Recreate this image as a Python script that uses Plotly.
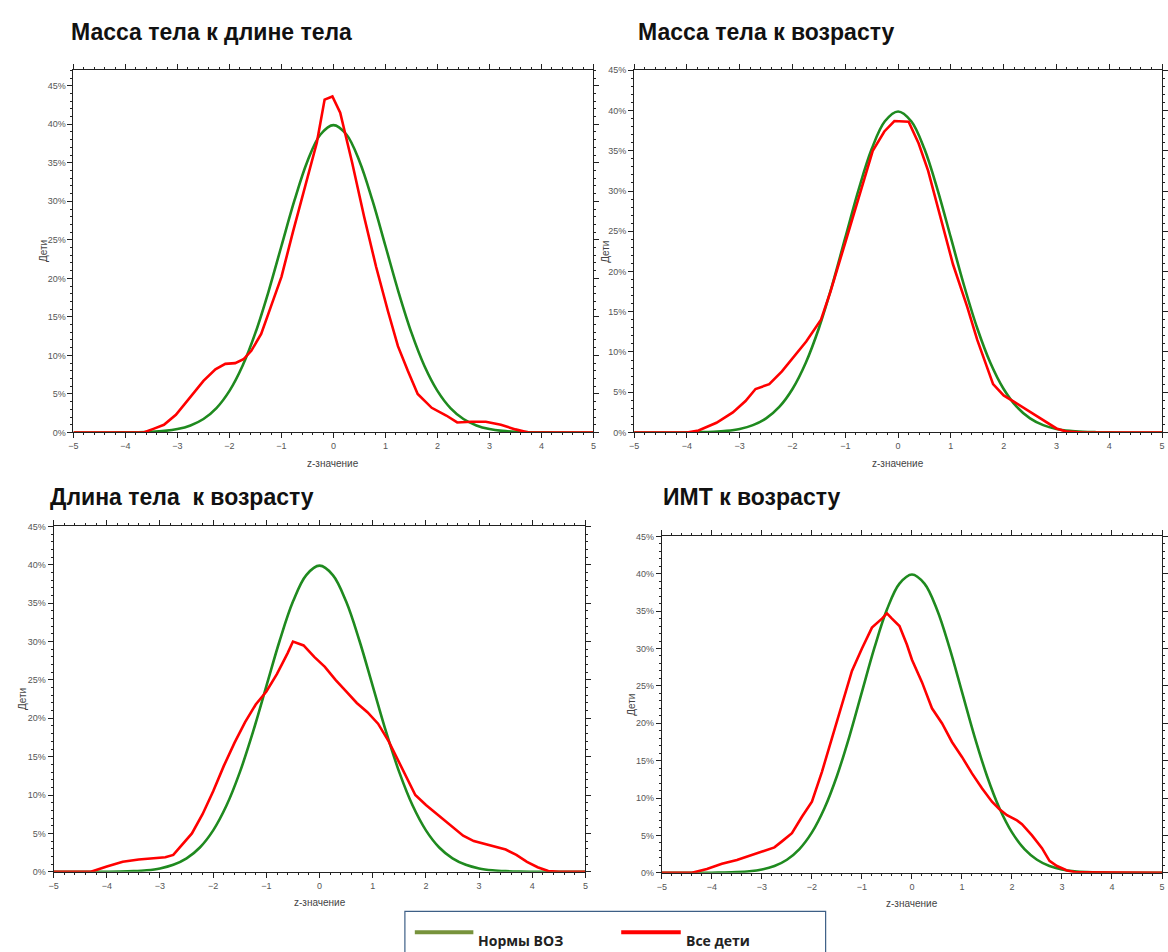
import plotly.graph_objects as go

# ---------------- data ----------------
# WHO reference curve (standard normal density, %), read at 0.25 steps
who_z = [-5.0, -4.75, -4.5, -4.25, -4.0, -3.75, -3.5, -3.25, -3.0, -2.75, -2.5, -2.25, -2.0, -1.75, -1.5, -1.25,
         -1.0, -0.75, -0.5, -0.25, 0.0, 0.25, 0.5, 0.75, 1.0, 1.25, 1.5, 1.75, 2.0, 2.25, 2.5, 2.75, 3.0, 3.25,
         3.5, 3.75, 4.0, 4.25, 4.5, 4.75, 5.0]
who_pct = [0.0, 0.0005, 0.002, 0.005, 0.013, 0.035, 0.087, 0.20, 0.44, 0.91, 1.75, 3.17, 5.40, 8.63, 12.95, 18.26,
           24.20, 30.11, 35.21, 38.67, 39.89, 38.67, 35.21, 30.11, 24.20, 18.26, 12.95, 8.63, 5.40, 3.17, 1.75,
           0.91, 0.44, 0.20, 0.087, 0.035, 0.013, 0.005, 0.002, 0.0005, 0.0]

# "Все дети" – Масса тела к длине тела
wl_z = [-5.0, -3.65, -3.45, -3.26, -3.03, -2.78, -2.5, -2.27, -2.08, -1.89, -1.73, -1.58, -1.39, -1.2, -1.0,
        -0.78, -0.55, -0.32, -0.17, -0.02, 0.13, 0.36, 0.59, 0.82, 1.05, 1.24, 1.43, 1.62, 1.89, 2.17, 2.38,
        2.65, 2.93, 3.22, 3.5, 3.75, 5.0]
wl_pct = [0.0, 0.0, 0.5, 1.0, 2.3, 4.4, 6.7, 8.2, 8.9, 9.0, 9.5, 10.6, 12.8, 16.4, 20.2,
          26.0, 31.8, 37.6, 43.2, 43.6, 41.5, 35.0, 28.0, 21.5, 15.7, 11.2, 8.0, 5.0, 3.2, 2.2, 1.3,
          1.4, 1.4, 1.0, 0.4, 0.0, 0.0]

# "Все дети" – Масса тела к возрасту
wa_z = [-5.0, -4.0, -3.78, -3.44, -3.13, -2.89, -2.7, -2.44, -2.2, -1.96, -1.74, -1.46, -1.28, -1.0, -0.72,
        -0.48, -0.26, -0.07, 0.2, 0.39, 0.57, 0.81, 1.04, 1.31, 1.5, 1.8, 2.0, 2.2, 2.5, 2.8, 3.0, 3.2, 3.5, 5.0]
wa_pct = [0.0, 0.0, 0.25, 1.2, 2.5, 3.9, 5.4, 6.0, 7.6, 9.5, 11.3, 14.0, 17.5, 23.6, 29.8,
          35.0, 37.4, 38.7, 38.6, 35.9, 32.5, 26.7, 20.9, 15.6, 11.5, 6.0, 4.6, 3.8, 2.6, 1.3, 0.5, 0.1, 0.0, 0.0]

# "Все дети" – Длина тела к возрасту
la_z = [-5.0, -4.3, -4.0, -3.7, -3.4, -3.1, -2.9, -2.75, -2.55, -2.4, -2.2, -2.0, -1.8, -1.6, -1.4, -1.2, -1.0,
        -0.8, -0.6, -0.5, -0.3, -0.1, 0.1, 0.3, 0.5, 0.7, 0.9, 1.1, 1.3, 1.5, 1.7, 1.8, 2.0, 2.3, 2.5, 2.7,
        2.9, 3.1, 3.3, 3.5, 3.7, 3.9, 4.1, 4.3, 4.5, 5.0]
la_pct = [0.0, 0.0, 0.7, 1.3, 1.6, 1.8, 1.9, 2.2, 3.8, 5.0, 7.5, 10.5, 13.8, 16.8, 19.5, 21.8, 23.5,
          25.8, 28.5, 30.0, 29.5, 28.0, 26.7, 25.0, 23.5, 22.0, 20.8, 19.3, 17.0, 14.2, 11.2, 10.0, 8.7, 7.0,
          5.9, 4.7, 4.0, 3.6, 3.3, 2.9, 2.2, 1.3, 0.6, 0.1, 0.0, 0.0]

# "Все дети" – ИМТ к возрасту
ba_z = [-5.0, -4.4, -4.1, -3.8, -3.5, -3.2, -3.0, -2.75, -2.6, -2.4, -2.2, -2.0, -1.8, -1.6, -1.4, -1.2, -1.0,
        -0.8, -0.6, -0.5, -0.4, -0.25, -0.1, 0.0, 0.2, 0.4, 0.6, 0.8, 1.0, 1.2, 1.4, 1.6, 1.75, 1.9, 2.1, 2.2,
        2.4, 2.6, 2.75, 2.9, 3.1, 3.3, 5.0]
ba_pct = [0.0, 0.0, 0.5, 1.2, 1.7, 2.4, 2.9, 3.4, 4.2, 5.3, 7.5, 9.5, 13.5, 18.0, 22.5, 27.0, 30.0,
          32.8, 34.0, 34.7, 34.0, 33.0, 30.5, 28.5, 25.5, 22.0, 20.0, 17.5, 15.5, 13.3, 11.3, 9.5, 8.5, 7.7,
          7.0, 6.5, 5.0, 3.3, 1.6, 0.9, 0.3, 0.05, 0.0]

titles = ["Масса тела к длине тела", "Масса тела к возрасту",
          "Длина тела\u00a0 к возрасту", "ИМТ к возрасту"]
red_series = [(wl_z, wl_pct), (wa_z, wa_pct), (la_z, la_pct), (ba_z, ba_pct)]
legend_names = ["Нормы ВОЗ", "Все дети"]
x_title = "z-значение"
y_title = "Дети"

# ---------------- layout geometry (pixels) ----------------
W, H = 1168, 952
panels = [
    dict(l=69, r=593, t=66, b=432, ymax=47, tx=64, ty=27, yt=39),
    dict(l=634, r=1166, t=66, b=432, ymax=45, tx=636, ty=27, yt=605),
    dict(l=49, r=585, t=527, b=876, ymax=45, tx=43, ty=497, yt=17),
    dict(l=662, r=1166, t=537, b=877, ymax=45, tx=661, ty=497, yt=631),
]

GREEN = "#1f8a1f"
RED = "#ff0000"
FONT = "Liberation Sans, Arial"

fig = go.Figure()
layout = dict(width=W, height=H, margin=dict(l=0, r=0, t=0, b=0),
              paper_bgcolor="white", plot_bgcolor="white", showlegend=False,
              annotations=[], shapes=[])

for i, p in enumerate(panels):
    n = "" if i == 0 else str(i + 1)
    xa, ya = "x" + n, "y" + n
    zr, pr = red_series[i]
    fig.add_trace(go.Scatter(x=who_z, y=who_pct, mode="lines", line=dict(color=GREEN, width=2.6, shape="spline"),
                             xaxis=xa, yaxis=ya, name=legend_names[0], cliponaxis=False))
    fig.add_trace(go.Scatter(x=zr, y=pr, mode="lines", line=dict(color=RED, width=2.6),
                             xaxis=xa, yaxis=ya, name=legend_names[1], cliponaxis=False))
    axis_common = dict(showline=True, linecolor="#222", linewidth=1, mirror="ticks", ticks="outside",
                       ticklen=5, tickcolor="#222", showgrid=False, zeroline=False,
                       tickfont=dict(family=FONT, size=9, color="#555"))
    layout["xaxis" + n] = dict(domain=[p["l"] / W, p["r"] / W], range=[-5, 5], dtick=1, tick0=-5,
                               anchor=ya, minor=dict(dtick=0.2, ticklen=2, ticks="outside", tickcolor="#222"),
                               **axis_common)
    layout["yaxis" + n] = dict(domain=[1 - p["b"] / H, 1 - p["t"] / H], range=[0, p["ymax"]], dtick=5, tick0=0,
                               ticksuffix="%", anchor=xa,
                               minor=dict(dtick=1, ticklen=2, ticks="outside", tickcolor="#222"),
                               **axis_common)
    layout["annotations"].append(dict(text="<b>" + titles[i] + "</b>", x=p["tx"] / W, y=1 - p["ty"] / H,
                                      xref="paper", yref="paper", xanchor="left", yanchor="middle",
                                      showarrow=False,
                                      font=dict(family=FONT, size=23, color="#111")))
    layout["annotations"].append(dict(text=x_title, x=(p["l"] + p["r"]) / 2 / W, y=1 - (p["b"] + 31) / H,
                                      xref="paper", yref="paper", xanchor="center", yanchor="middle",
                                      showarrow=False,
                                      font=dict(family=FONT, size=10, color="#444")))
    layout["annotations"].append(dict(text=y_title, x=p["yt"] / W, y=1 - ((p["t"] + p["b"]) / 2) / H,
                                      xref="paper", yref="paper", xanchor="center", yanchor="middle",
                                      textangle=-90, showarrow=False,
                                      font=dict(family=FONT, size=10, color="#444")))

# legend box (drawn)
layout["shapes"].append(dict(type="rect", xref="paper", yref="paper", x0=403 / W, x1=827 / W,
                             y0=-0.02, y1=1 - 916 / H, line=dict(color="#3d5f86", width=1.2),
                             fillcolor="white"))
layout["shapes"].append(dict(type="line", xref="paper", yref="paper", x0=413 / W, x1=472 / W,
                             y0=1 - 937 / H, y1=1 - 937 / H, line=dict(color="#77933C", width=4)))
layout["shapes"].append(dict(type="line", xref="paper", yref="paper", x0=621 / W, x1=681 / W,
                             y0=1 - 937 / H, y1=1 - 937 / H, line=dict(color=RED, width=4)))
layout["annotations"].append(dict(text="<b>" + legend_names[0] + "</b>", x=475 / W, y=1 - 945 / H,
                                  xref="paper", yref="paper", xanchor="left", yanchor="middle", showarrow=False,
                                  font=dict(family="Open Sans, Liberation Sans", size=14, color="#222")))
layout["annotations"].append(dict(text="<b>" + legend_names[1] + "</b>", x=684 / W, y=1 - 945 / H,
                                  xref="paper", yref="paper", xanchor="left", yanchor="middle", showarrow=False,
                                  font=dict(family="Open Sans, Liberation Sans", size=14, color="#222")))

fig.update_layout(**layout)
fig.write_html("out.html")
